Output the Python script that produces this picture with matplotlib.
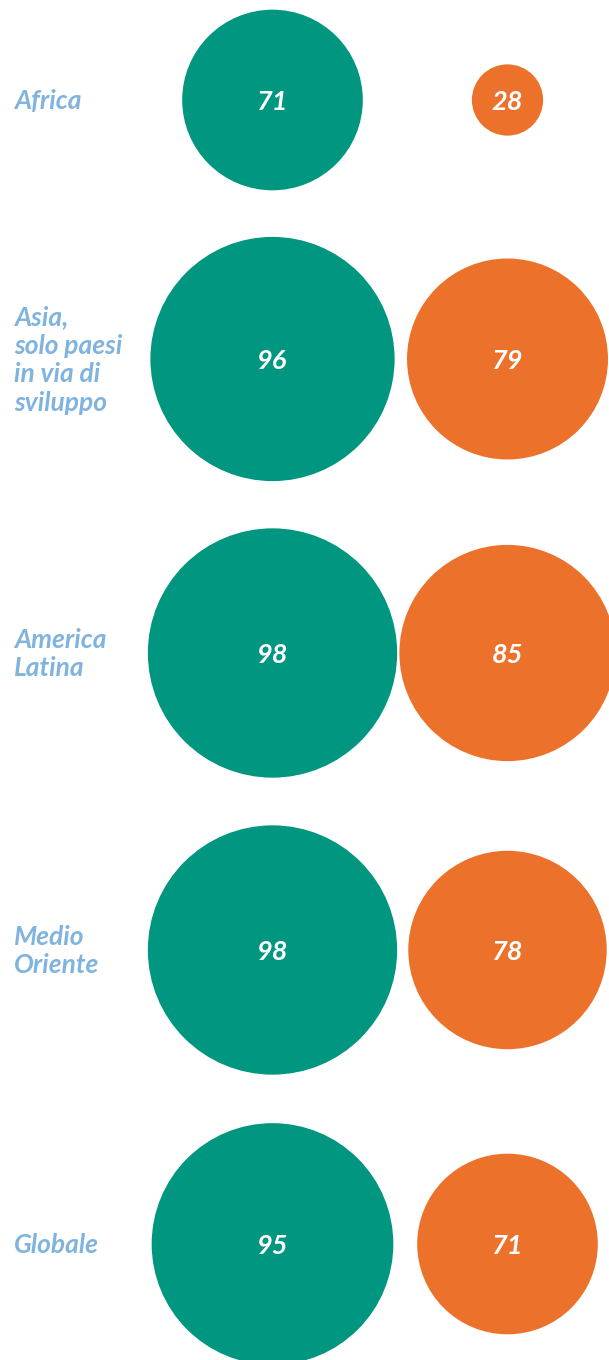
import matplotlib.pyplot as plt
from matplotlib.patches import Circle

# dati
regions = ['Africa', 'Asia,\nsolo paesi\nin via di\nsviluppo', 'America\nLatina',
           'Medio\nOriente', 'Globale']
green_values = [71, 96, 98, 98, 95]
orange_values = [28, 79, 85, 78, 71]

# layout (pixel)
W, H = 609, 1360
row_y = [100, 359, 653, 950, 1244]
green_x = 272.5
orange_x = 507.5
px_per_unit = 1.272   # raggio del cerchio = valore * scala

green = '#009680'
orange = '#EC722C'
label_blue = '#80B4DE'

plt.rcParams['font.family'] = ['Lato', 'DejaVu Sans']

fig = plt.figure(figsize=(W / 100, H / 100), dpi=100)
ax = fig.add_axes([0, 0, 1, 1])
ax.set_xlim(0, W)
ax.set_ylim(H, 0)
ax.set_aspect('equal')
ax.axis('off')

for label, g, o, y in zip(regions, green_values, orange_values, row_y):
    ax.add_patch(Circle((green_x, y), g * px_per_unit, color=green, lw=0))
    ax.add_patch(Circle((orange_x, y), o * px_per_unit, color=orange, lw=0))
    # numeri dentro i cerchi
    ax.text(green_x, y, str(g), color='white', fontsize=19.5, fontweight='bold',
            fontstyle='italic', ha='center', va='center_baseline')
    ax.text(orange_x, y, str(o), color='white', fontsize=19.5, fontweight='bold',
            fontstyle='italic', ha='center', va='center_baseline')
    # etichetta regione a sinistra
    ax.text(14, y + 1, label, color=label_blue, fontsize=19, fontweight='bold',
            fontstyle='italic', ha='left', va='center', linespacing=1.22)

fig.savefig('out.png', dpi=100)
